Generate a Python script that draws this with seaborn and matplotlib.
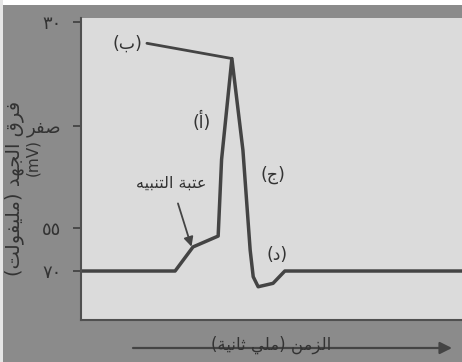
import numpy as np
import matplotlib
matplotlib.use("Agg")
import matplotlib.pyplot as plt
import seaborn as sns
from matplotlib.patches import Rectangle

# --- data ---
time_ms = [0, 2.47, 2.94, 3.60, 3.69, 3.96, 4.25, 4.44, 4.52, 4.65, 5.04, 5.35, 10.0]
volt_mv = [-70, -70, -61.6, -57.8, -18.0, 19.5, -13.0, -62.7, -72.0, -75.5, -74.3, -70, -70]

tick_mv = [30, 0, -55, -70]
tick_txt = ["٣٠", "صفر", "٥٥", "٧٠"]
tick_px = [249, 145, 43, 0]   # schematic (non linear) spacing of the drawing

# labels on the curve: text, x (ms), y (mV)
lbl_txt = ["(أ)", "(ب)", "(ج)", "(د)"]
lbl_t = [3.17, 1.23, 5.05, 5.14]
lbl_v = [1.2, 23.9, -26.4, -64.4]

thr_txt = "عتبة التنبيه"
x_title = "الزمن (ملي ثانية)"
y_title = "فرق الجهد (مليفولت)"

# --- tiny arabic shaper (matplotlib does not shape/bidi arabic) ---
FORMS = {  # isolated, final, initial, medial
    'ا': ('\uFE8D', '\uFE8E', None, None),
    'أ': ('\uFE83', '\uFE84', None, None),
    'ب': ('\uFE8F', '\uFE90', '\uFE91', '\uFE92'),
    'ة': ('\uFE93', '\uFE94', None, None),
    'ت': ('\uFE95', '\uFE96', '\uFE97', '\uFE98'),
    'ث': ('\uFE99', '\uFE9A', '\uFE9B', '\uFE9C'),
    'ج': ('\uFE9D', '\uFE9E', '\uFE9F', '\uFEA0'),
    'د': ('\uFEA9', '\uFEAA', None, None),
    'ر': ('\uFEAD', '\uFEAE', None, None),
    'ز': ('\uFEAF', '\uFEB0', None, None),
    'ص': ('\uFEB9', '\uFEBA', '\uFEBB', '\uFEBC'),
    'ع': ('\uFEC9', '\uFECA', '\uFECB', '\uFECC'),
    'ف': ('\uFED1', '\uFED2', '\uFED3', '\uFED4'),
    'ق': ('\uFED5', '\uFED6', '\uFED7', '\uFED8'),
    'ل': ('\uFEDD', '\uFEDE', '\uFEDF', '\uFEE0'),
    'م': ('\uFEE1', '\uFEE2', '\uFEE3', '\uFEE4'),
    'ن': ('\uFEE5', '\uFEE6', '\uFEE7', '\uFEE8'),
    'ه': ('\uFEE9', '\uFEEA', '\uFEEB', '\uFEEC'),
    'و': ('\uFEED', '\uFEEE', None, None),
    'ي': ('\uFEF1', '\uFEF2', '\uFEF3', '\uFEF4'),
}


def ar(s):
    out = []
    for i, ch in enumerate(s):
        if ch not in FORMS:
            out.append(ch)
            continue
        prev = s[i - 1] if i > 0 else ''
        nxt = s[i + 1] if i + 1 < len(s) else ''
        j_prev = prev in FORMS and FORMS[prev][2] is not None
        j_next = nxt in FORMS and FORMS[ch][2] is not None
        iso, fin, ini, med = FORMS[ch]
        if j_prev and j_next:
            out.append(med)
        elif j_prev:
            out.append(fin)
        elif j_next:
            out.append(ini)
        else:
            out.append(iso)
    vis = ''.join(reversed(out))
    return vis.translate(str.maketrans('()', ')('))


# piecewise axis like the original drawing
mv_k = np.array(tick_mv[::-1], dtype=float)
px_k = np.array(tick_px[::-1], dtype=float)


def fwd(v):
    v = np.asarray(v, dtype=float)
    out = np.interp(v, mv_k, px_k)
    lo = v < mv_k[0]
    hi = v > mv_k[-1]
    s_lo = (px_k[1] - px_k[0]) / (mv_k[1] - mv_k[0])
    s_hi = (px_k[-1] - px_k[-2]) / (mv_k[-1] - mv_k[-2])
    out = np.where(lo, px_k[0] + (v - mv_k[0]) * s_lo, out)
    out = np.where(hi, px_k[-1] + (v - mv_k[-1]) * s_hi, out)
    return out


def inv(p):
    p = np.asarray(p, dtype=float)
    out = np.interp(p, px_k, mv_k)
    lo = p < px_k[0]
    hi = p > px_k[-1]
    s_lo = (mv_k[1] - mv_k[0]) / (px_k[1] - px_k[0])
    s_hi = (mv_k[-1] - mv_k[-2]) / (px_k[-1] - px_k[-2])
    out = np.where(lo, mv_k[0] + (p - px_k[0]) * s_lo, out)
    out = np.where(hi, mv_k[-1] + (p - px_k[-1]) * s_hi, out)
    return out


sns.set_style("white")
plt.rcParams['font.family'] = ['DejaVu Sans']

ink = '#444444'
txt_c = '#333333'
fig = plt.figure(figsize=(4.62, 3.62), dpi=100, facecolor='#8b8b8b')
ax = fig.add_axes([81 / 462, 42 / 362, 381 / 462, 302 / 362])
ax.set_facecolor('#dbdbdb')

sns.lineplot(x=time_ms, y=volt_mv, ax=ax, color=ink, linewidth=2.5, sort=False)

ax.set_yscale('function', functions=(fwd, inv))
ax.set_xlim(0, 10)
ax.set_ylim(-87.1, 31.2)

ax.set_xticks([])
ax.set_yticks(tick_mv)
ax.set_yticklabels([t if t[0].isdigit() else ar(t) for t in tick_txt], fontsize=13, color=txt_c)
ax.tick_params(axis='y', direction='out', length=6, width=1.3, color=ink, pad=8, left=True)

for s in ['top', 'right']:
    ax.spines[s].set_visible(False)
for s in ['left', 'bottom']:
    ax.spines[s].set_color('#505050')
    ax.spines[s].set_linewidth(1.5)

# letter labels
for txt, t, v in zip(lbl_txt, lbl_t, lbl_v):
    ax.text(t, v, ar(txt), fontsize=12.5, color=txt_c, ha='center', va='center')

# leader line for (ب) to the peak
ax.plot([1.73, time_ms[5]], [23.9, volt_mv[5]], color=ink, linewidth=2.0)

# threshold label + arrow
ax.annotate(ar(thr_txt), xy=(2.9, -61.5), xytext=(2.38, -30.9),
            fontsize=11.5, color=txt_c, ha='center', va='center',
            arrowprops=dict(arrowstyle='-|>', color=ink, lw=1.3,
                            mutation_scale=14, shrinkA=7, shrinkB=0))

# axis titles (written outside the plot like the scan)
fig.text(14 / 462, 1 - 188 / 362, ar(y_title), rotation=90, fontsize=14,
         color=txt_c, ha='center', va='center')
fig.text(33 / 462, 1 - 158 / 362, '(mV)', rotation=90, fontsize=11,
         color=txt_c, ha='center', va='center')

fig.text(271 / 462, 1 - 345 / 362, ar(x_title), fontsize=12,
         color=txt_c, ha='center', va='center')
ax.annotate('', xy=(452, 14), xytext=(133, 14), xycoords='figure pixels',
            textcoords='figure pixels', annotation_clip=False,
            arrowprops=dict(arrowstyle='-|>', color=ink, lw=1.6,
                            mutation_scale=18, shrinkA=0, shrinkB=0))

# white scan border
fig.patches.append(Rectangle((0, 1 - 5 / 362), 1, 5 / 362, transform=fig.transFigure,
                             facecolor='white', edgecolor='none', zorder=-1))
fig.patches.append(Rectangle((0, 0), 3 / 462, 1, transform=fig.transFigure,
                             facecolor='#e6e6e6', edgecolor='none', zorder=-1))

fig.savefig("out.png", dpi=100, facecolor=fig.get_facecolor())
